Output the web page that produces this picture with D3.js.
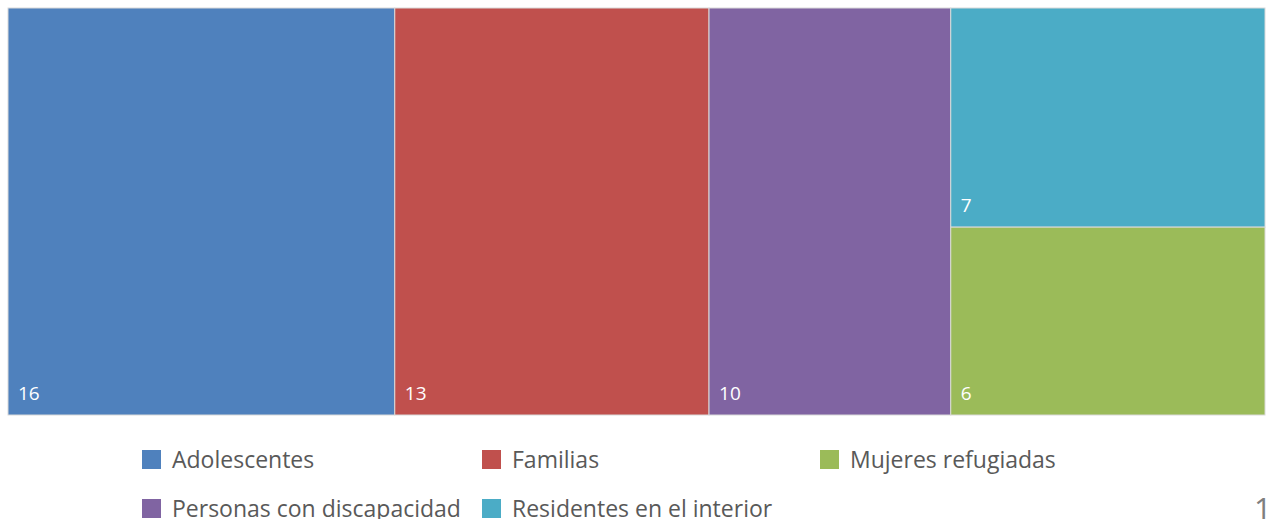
<!DOCTYPE html>
<html>
<head>
<meta charset="utf-8">
<script src="https://cdn.jsdelivr.net/npm/d3@7"></script>
<style>
  body { margin: 0; background: #fff; overflow: hidden; }
  svg { display: block; }
</style>
</head>
<body>
<div id="chart"></div>
<script>
// treemap data
const categories = ["Adolescentes", "Familias", "Personas con discapacidad", "Residentes en el interior", "Mujeres refugiadas"];
const values = [16, 13, 10, 7, 6];
const colors = ["#4F81BD", "#C0504D", "#8064A2", "#4BACC6", "#9BBB59"];
// legend order as in the picture
const legendOrder = ["Adolescentes", "Familias", "Mujeres refugiadas", "Personas con discapacidad", "Residentes en el interior"];

const width = 1269, height = 519;
const area = {x0: 8, y0: 8, x1: 1265, y1: 415};

const svg = d3.select("#chart").append("svg")
    .attr("width", width)
    .attr("height", height);

const color = d3.scaleOrdinal(categories, colors);

// last two share one column
const leaves = categories.map((c, i) => ({name: c, value: values[i]}));
const rootData = {
  name: "root",
  children: [leaves[0], leaves[1], leaves[2], {name: "grupo", children: [leaves[3], leaves[4]]}]
};

const root = d3.hierarchy(rootData).sum(d => d.value || 0);

d3.treemap()
  .tile(d3.treemapSliceDice)
  .size([area.x1 - area.x0, area.y1 - area.y0])
  .paddingInner(0)(root);

const g = svg.append("g").attr("transform", `translate(${area.x0},${area.y0})`);

const cells = g.selectAll(".cell").data(root.leaves()).enter().append("g").attr("class", "cell");

cells.append("rect")
    .attr("x", d => d.x0)
    .attr("y", d => d.y0)
    .attr("width", d => d.x1 - d.x0)
    .attr("height", d => d.y1 - d.y0)
    .attr("fill", d => color(d.data.name))
    .attr("stroke", "#d9d9d9")
    .attr("stroke-width", 1);

cells.append("text")
    .text(d => d.data.value)
    .attr("x", d => d.x0 + 10)
    .attr("y", d => d.y1 - 15)
    .attr("fill", "#fff")
    .style("font-family", "'Open Sans', sans-serif")
    .style("font-size", "19px");

// legend (descenders of second row touch the bottom edge, like the reference)
const legX = [142, 482, 820];
const legY = [450, 499];
const legend = svg.selectAll(".leg").data(legendOrder).enter().append("g")
    .attr("class", "leg")
    .attr("transform", (d, i) => `translate(${legX[i % 3]},${legY[Math.floor(i / 3)]})`);

legend.append("rect")
    .attr("x", 0).attr("y", 0)
    .attr("width", 19).attr("height", 19)
    .attr("fill", d => color(d));

legend.append("text")
    .text(d => d)
    .attr("x", 30)
    .attr("y", 18)
    .attr("fill", "#595959")
    .style("font-family", "'Open Sans', sans-serif")
    .style("font-size", "23px");

// page number, cut by the edge
svg.append("text")
    .text("1")
    .attr("x", 1254)
    .attr("y", 520)
    .attr("fill", "#7f7f7f")
    .style("font-family", "'Open Sans', sans-serif")
    .style("font-size", "31px");
</script>
</body>
</html>
